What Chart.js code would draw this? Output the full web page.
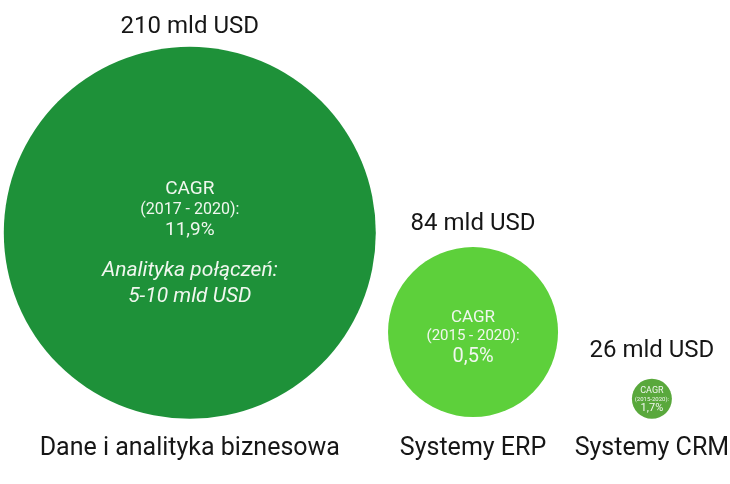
<!DOCTYPE html>
<html lang="pl">
<head>
<meta charset="utf-8">
<script src="https://cdn.jsdelivr.net/npm/chart.js@4.4.1/dist/chart.umd.min.js"></script>
<style>
  html, body { margin: 0; padding: 0; background: #fff; }
  #wrap { width: 730px; height: 484px; position: relative; }
</style>
</head>
<body>
<div id="wrap"><canvas id="wykres"></canvas></div>
<script>
const kategorie = ["Dane i analityka biznesowa", "Systemy ERP", "Systemy CRM"];
const wartosci = [210, 84, 26]; // mld USD
const okresy = ["(2017 - 2020):", "(2015 - 2020):", "(2015-2020):"];
const cagr = ["11,9%", "0,5%", "1,7%"];
const osX = [26.0, 64.8, 89.3];
const osY = [51.9, 31.4, 17.6];

const kolory = ["#1e9139", "#5dd03b", "#59a83c"];
const promienie = [186, 85, 20];

// uklad tekstu w srodku kol: [tekst, przesuniecie, rozmiar, kursywa]
const srodek = [
  [
    ["CAGR", -39, 19, false],
    [okresy[0], -19, 16, false],
    [cagr[0], 2, 19, false],
    ["Analityka połączeń:", 43, 21, true],
    ["5-10 mld USD", 69, 21, true],
  ],
  [
    ["CAGR", -10, 17, false],
    [okresy[1], 8, 15, false],
    [cagr[1], 30, 20, false],
  ],
  [
    ["CAGR", -6, 9, false],
    [okresy[2], 2, 6, false],
    [cagr[2], 12, 11, false],
  ],
];
const odstepGora = [14, 17, 22];

const napisy = {
  id: "napisy",
  afterDatasetsDraw(chart) {
    const ctx = chart.ctx;
    const meta = chart.getDatasetMeta(0);
    ctx.save();
    ctx.textAlign = "center";
    ctx.textBaseline = "alphabetic";
    meta.data.forEach((punkt, i) => {
      const { x, y } = punkt.getProps(["x", "y"], true);
      const r = punkt.options.radius;

      ctx.fillStyle = "#161616";
      ctx.font = "24px Roboto";
      ctx.fillText(wartosci[i] + " mld USD", x, y - r - odstepGora[i]);
      ctx.font = "25px Roboto";
      ctx.fillText(kategorie[i], x, 455);

      ctx.fillStyle = "#f1f7ef";
      srodek[i].forEach(([tekst, dy, rozmiar, kursywa]) => {
        ctx.font = (kursywa ? "italic " : "") + rozmiar + "px Roboto";
        ctx.fillText(tekst, x, y + dy);
      });
    });
    ctx.restore();
  },
};

const wykres = new Chart(document.getElementById("wykres"), {
  type: "bubble",
  data: {
    labels: kategorie,
    datasets: [
      {
        data: kategorie.map((k, i) => ({ x: osX[i], y: osY[i] })),
        backgroundColor: kolory,
        borderWidth: 0,
        radius: promienie,
        hoverRadius: 0,
        clip: false,
      },
    ],
  },
  options: {
    responsive: true,
    maintainAspectRatio: false,
    animation: false,
    events: [],
    layout: { padding: 0, autoPadding: false },
    plugins: {
      legend: { display: false },
      tooltip: { enabled: false },
    },
    scales: {
      x: { type: "linear", min: 0, max: 100, display: false },
      y: { type: "linear", min: 0, max: 100, display: false },
    },
  },
  plugins: [napisy],
});
</script>
</body>
</html>
